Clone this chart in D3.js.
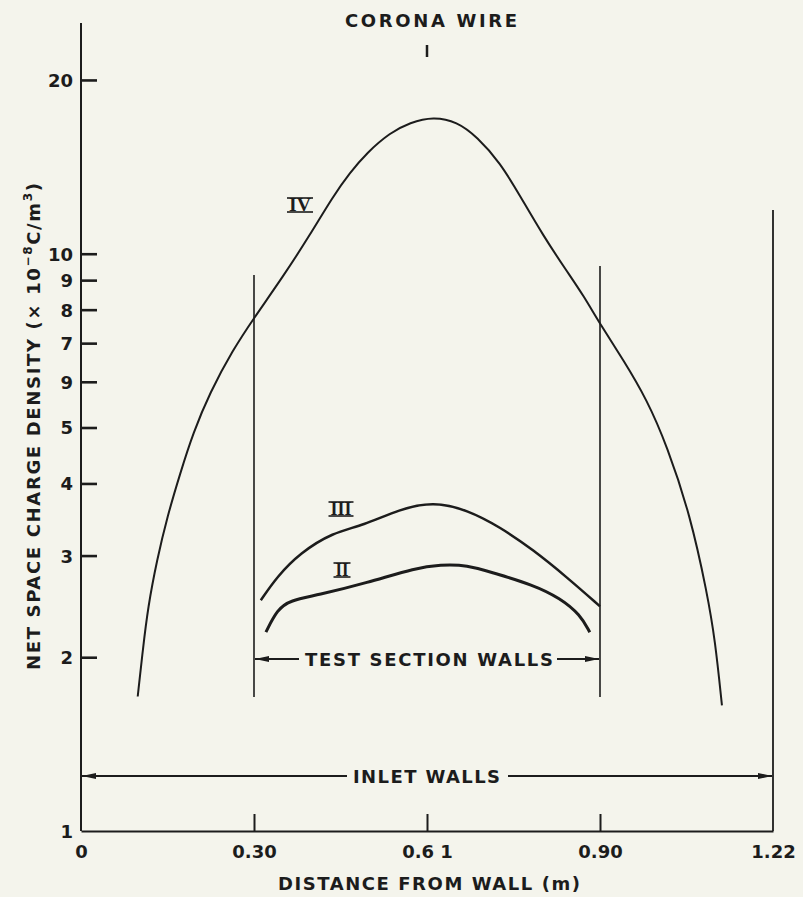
<!DOCTYPE html>
<html>
<head>
<meta charset="utf-8">
<script src="https://cdn.jsdelivr.net/npm/d3@7"></script>
<style>
  html, body { margin: 0; padding: 0; background: #f4f4ec; }
  svg { display: block; }
  text { font-family: "DejaVu Sans", sans-serif; font-weight: bold; fill: #1c1c1c; }
</style>
</head>
<body>
<div id="chart"></div>
<script>
// Chart values
var xTickValues = [0, 0.305, 0.61, 0.915, 1.22];
var xTickLabels = ["0", "0.30", "0.6 1", "0.90", "1.22"];
var yTickValues = [1, 2, 3, 4, 5, 6, 7, 8, 9, 10, 20];
var yTickLabels = ["1", "2", "3", "4", "5", "9", "7", "8", "9", "10", "20"];

var testWalls = [0.305, 0.915];
var inletWall = 1.22;
var coronaWire = 0.61;

// curve IV
var curveIVx = [0.100, 0.109, 0.118, 0.134, 0.152, 0.175, 0.198, 0.227, 0.268, 0.303, 0.356, 0.404, 0.444, 0.474, 0.504, 0.545, 0.580, 0.621, 0.663, 0.698, 0.739, 0.774, 0.815, 0.857, 0.885, 0.917, 0.956, 0.998, 1.033, 1.074, 1.104, 1.118, 1.130];
var curveIVy = [1.71, 2.06, 2.44, 2.95, 3.50, 4.17, 4.90, 5.74, 6.82, 7.69, 9.12, 10.79, 12.56, 13.81, 14.96, 16.21, 16.87, 17.28, 16.93, 15.95, 14.38, 12.60, 10.74, 9.31, 8.49, 7.50, 6.55, 5.58, 4.65, 3.53, 2.58, 2.14, 1.65];

// curve III
var curveIIIx = [0.317, 0.346, 0.386, 0.444, 0.497, 0.562, 0.621, 0.681, 0.739, 0.797, 0.857, 0.915];
var curveIIIy = [2.51, 2.76, 3.03, 3.29, 3.38, 3.61, 3.72, 3.60, 3.36, 3.07, 2.75, 2.45];

// curve II
var curveIIx = [0.326, 0.346, 0.369, 0.416, 0.504, 0.592, 0.633, 0.681, 0.726, 0.797, 0.845, 0.880, 0.897];
var curveIIy = [2.21, 2.42, 2.51, 2.56, 2.69, 2.86, 2.89, 2.89, 2.80, 2.67, 2.53, 2.37, 2.21];

var width = 803, height = 897;

var svg = d3.select("#chart")
    .append("svg")
    .attr("width", width)
    .attr("height", height);

var x = d3.scaleLinear()
    .domain([0, 1.22])
    .range([81, 773]);

var y = d3.scaleLog()
    .domain([1, 25.1])
    .range([831, 23]);

// arrow marker
var defs = svg.append("defs");
defs.append("marker")
    .attr("id", "arrow")
    .attr("viewBox", "0 0 14 6")
    .attr("refX", 14)
    .attr("refY", 3)
    .attr("markerWidth", 14)
    .attr("markerHeight", 6)
    .attr("markerUnits", "userSpaceOnUse")
    .attr("orient", "auto-start-reverse")
    .append("path")
    .attr("d", "M0,0 L14,3 L0,6 Z")
    .attr("fill", "#1c1c1c");

// y axis: ticks point right, labels on the left
var yAxis = d3.axisRight(y)
    .tickValues(yTickValues)
    .tickSize(16)
    .tickFormat((d, i) => yTickLabels[i]);

var yg = svg.append("g")
    .attr("transform", `translate(${x(0)},0)`)
    .call(yAxis);
yg.select(".domain").attr("d", `M0,${y(25.1)}V${y(1)}`).attr("stroke", "#1c1c1c").attr("stroke-width", 2);
yg.selectAll(".tick line").attr("stroke", "#1c1c1c").attr("stroke-width", 2.6);
yg.selectAll(".tick").filter(d => d === 1).select("line").remove();
yg.selectAll(".tick text")
    .attr("x", -8)
    .attr("dy", "0.36em")
    .attr("text-anchor", "end")
    .style("font-size", "18px")
    .style("font-family", "\"DejaVu Sans\", sans-serif");

// x axis: short upward ticks at inner positions
var xAxis = d3.axisBottom(x)
    .tickValues(xTickValues)
    .tickSize(0)
    .tickPadding(14)
    .tickFormat((d, i) => xTickLabels[i]);

var xg = svg.append("g")
    .attr("transform", `translate(0,${y(1)})`)
    .call(xAxis);
xg.select(".domain").attr("stroke", "#1c1c1c").attr("stroke-width", 2);
xg.selectAll(".tick text")
    .style("font-size", "18px")
    .style("font-family", "\"DejaVu Sans\", sans-serif")
    .attr("dy", "0.71em");
xg.selectAll(".tick").filter(d => d > 0 && d < 1.22)
    .append("line")
    .attr("y1", 0)
    .attr("y2", -17)
    .attr("stroke", "#1c1c1c")
    .attr("stroke-width", 2);

// walls
svg.append("line")
    .attr("x1", x(testWalls[0])).attr("x2", x(testWalls[0]))
    .attr("y1", 275).attr("y2", 697)
    .attr("stroke", "#1c1c1c").attr("stroke-width", 1.6);
svg.append("line")
    .attr("x1", x(testWalls[1])).attr("x2", x(testWalls[1]))
    .attr("y1", 266).attr("y2", 697)
    .attr("stroke", "#1c1c1c").attr("stroke-width", 1.6);
svg.append("line")
    .attr("x1", x(inletWall)).attr("x2", x(inletWall))
    .attr("y1", 210).attr("y2", y(1))
    .attr("stroke", "#1c1c1c").attr("stroke-width", 1.8);

// corona wire marker
svg.append("line")
    .attr("x1", x(coronaWire)).attr("x2", x(coronaWire))
    .attr("y1", 45).attr("y2", 57)
    .attr("stroke", "#1c1c1c").attr("stroke-width", 2.5);
svg.append("text")
    .attr("x", 345).attr("y", 27)
    .attr("textLength", 172)
    .attr("lengthAdjust", "spacing")
    .style("font-size", "18px")
    .text("CORONA WIRE");

// curves
var line = d3.line()
    .x(d => x(d[0]))
    .y(d => y(d[1]))
    .curve(d3.curveBasis);

svg.append("path")
    .datum(d3.zip(curveIVx, curveIVy))
    .attr("fill", "none")
    .attr("stroke", "#1c1c1c")
    .attr("stroke-width", 2)
    .attr("d", line);

svg.append("path")
    .datum(d3.zip(curveIIIx, curveIIIy))
    .attr("fill", "none")
    .attr("stroke", "#1c1c1c")
    .attr("stroke-width", 2.5)
    .attr("d", line);

svg.append("path")
    .datum(d3.zip(curveIIx, curveIIy))
    .attr("fill", "none")
    .attr("stroke", "#1c1c1c")
    .attr("stroke-width", 3)
    .attr("d", line);

// roman numeral labels with bars above and below
function roman(label, cx, cy, w) {
    var g = svg.append("g");
    g.append("text")
        .attr("x", cx).attr("y", cy + 6)
        .attr("text-anchor", "middle")
        .attr("textLength", w - 4)
        .attr("lengthAdjust", "spacingAndGlyphs")
        .style("font-family", "\"Liberation Serif\", serif")
        .style("font-size", "19px")
        .text(label);
    g.append("line")
        .attr("x1", cx - w / 2).attr("x2", cx + w / 2)
        .attr("y1", cy - 7).attr("y2", cy - 7)
        .attr("stroke", "#1c1c1c").attr("stroke-width", 1.6);
    g.append("line")
        .attr("x1", cx - w / 2).attr("x2", cx + w / 2)
        .attr("y1", cy + 7).attr("y2", cy + 7)
        .attr("stroke", "#1c1c1c").attr("stroke-width", 1.6);
}
roman("IV", 300, 205, 26);
roman("III", 341, 509, 25);
roman("II", 342, 570, 17);

// test section walls annotation
var tsY = 659;
svg.append("line")
    .attr("x1", 299).attr("x2", x(testWalls[0]) + 1)
    .attr("y1", tsY).attr("y2", tsY)
    .attr("stroke", "#1c1c1c").attr("stroke-width", 2)
    .attr("marker-end", "url(#arrow)");
svg.append("line")
    .attr("x1", 557).attr("x2", x(testWalls[1]) - 1)
    .attr("y1", tsY).attr("y2", tsY)
    .attr("stroke", "#1c1c1c").attr("stroke-width", 2)
    .attr("marker-end", "url(#arrow)");
svg.append("text")
    .attr("x", 305).attr("y", tsY + 7)
    .attr("textLength", 248)
    .attr("lengthAdjust", "spacing")
    .style("font-size", "18px")
    .text("TEST SECTION WALLS");

// inlet walls annotation
var inY = 776;
svg.append("line")
    .attr("x1", 347).attr("x2", x(0) + 1)
    .attr("y1", inY).attr("y2", inY)
    .attr("stroke", "#1c1c1c").attr("stroke-width", 2)
    .attr("marker-end", "url(#arrow)");
svg.append("line")
    .attr("x1", 508).attr("x2", x(inletWall) - 1)
    .attr("y1", inY).attr("y2", inY)
    .attr("stroke", "#1c1c1c").attr("stroke-width", 2)
    .attr("marker-end", "url(#arrow)");
svg.append("text")
    .attr("x", 353).attr("y", inY + 7)
    .attr("textLength", 147)
    .attr("lengthAdjust", "spacing")
    .style("font-size", "18px")
    .text("INLET WALLS");

// axis titles
svg.append("text")
    .attr("x", 278).attr("y", 890)
    .attr("textLength", 302)
    .attr("lengthAdjust", "spacing")
    .style("font-size", "18px")
    .text("DISTANCE FROM WALL (m)");

var yt = svg.append("text")
    .attr("transform", "translate(40,670) rotate(-90)")
    .attr("x", 0).attr("y", 0)
    .style("font-size", "18px");
yt.append("tspan").text("NET SPACE CHARGE DENSITY (× 10");
yt.append("tspan").attr("dy", -8).style("font-size", "12px").text("−8");
yt.append("tspan").attr("dy", 8).text("C/m");
yt.append("tspan").attr("dy", -8).style("font-size", "12px").text("3");
yt.append("tspan").attr("dy", 8).text(")");
yt.attr("textLength", 487).attr("lengthAdjust", "spacing");
</script>
</body>
</html>
